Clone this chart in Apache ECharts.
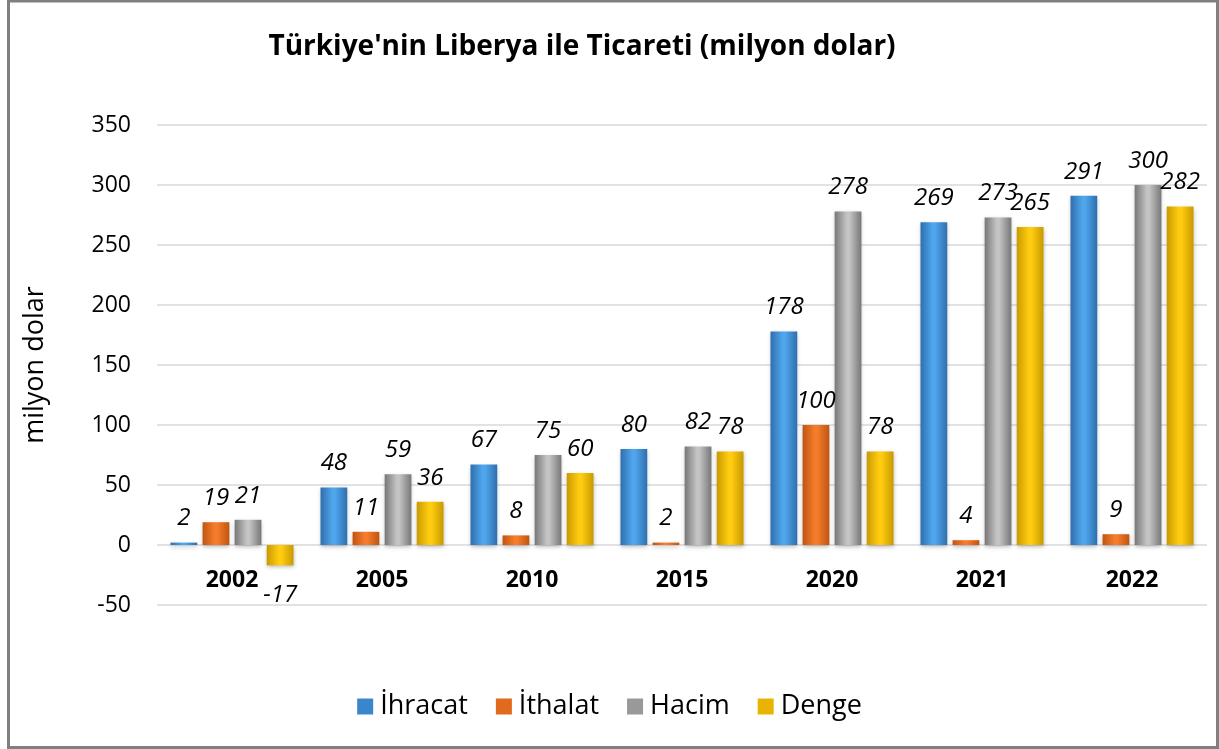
<!DOCTYPE html>
<html><head><meta charset="utf-8">
<script src="https://cdn.jsdelivr.net/npm/echarts@6/dist/echarts.min.js"></script>
<style>html,body{margin:0;padding:0;background:#fff}#c{width:1219px;height:749px}</style>
</head><body><div id="c"></div>
<script>
const years = ['2002','2005','2010','2015','2020','2021','2022'];
const ihracat = [2, 48, 67, 80, 178, 269, 291];
const ithalat = [19, 11, 8, 2, 100, 4, 9];
const hacim = [21, 59, 75, 82, 278, 273, 300];
const denge = [-17, 36, 60, 78, 78, 265, 282];
const seriesNames = ['İhracat','İthalat','Hacim','Denge'];
const yTicks = [-50, 0, 50, 100, 150, 200, 250, 300, 350];

const FONT = 'Open Sans';
function grad(edge, mid){
  return {type:'linear',x:0,y:0,x2:1,y2:0,colorStops:[
    {offset:0,color:edge},{offset:0.45,color:mid},{offset:0.55,color:mid},{offset:1,color:edge}]};
}
const colors = [grad('#2E6FAE','#4FA6EC'), grad('#C05510','#F47C2C'), grad('#777777','#C4C4C4'), grad('#C99A00','#FFCC10')];
const legendColors = ['#3A86CC','#E06A1E','#999999','#E8B400'];
const datas = [ihracat, ithalat, hacim, denge];

const chart = echarts.init(document.getElementById('c'), null, {renderer:'canvas'});
chart.setOption({
  animation:false,
  backgroundColor:'#fff',
  title:{text:"Türkiye'nin Liberya ile Ticareti (milyon dolar)", left:577, top:28, textAlign:'center',
    textStyle:{fontFamily:FONT,fontWeight:'bold',fontSize:28,color:'#000'}},
  graphic:[{type:'rect',shape:{x:8.5,y:1,width:1209,height:746.5},style:{fill:'none',stroke:'#808080',lineWidth:3},silent:true}],
  legend:{bottom:24,left:'center',itemWidth:16,itemHeight:16,itemGap:28,
    textStyle:{fontFamily:FONT,fontSize:27,color:'#000',padding:[0,0,0,2]},
    data:seriesNames.map((n,i)=>({name:n,icon:'rect',itemStyle:{color:legendColors[i]}}))},
  grid:{left:157,right:12,top:125,bottom:144},
  xAxis:{type:'category',data:years,offset:-60,
    axisLine:{show:false},
    axisTick:{show:false},
    axisLabel:{fontFamily:FONT,fontWeight:'bold',fontSize:23,color:'#000',margin:24}},
  yAxis:{type:'value',min:yTicks[0],max:yTicks[yTicks.length-1],interval:50,
    name:'milyon dolar',nameLocation:'middle',nameGap:108,nameRotate:90,
    nameTextStyle:{fontFamily:FONT,fontSize:27,color:'#000'},
    axisLine:{show:false},axisTick:{show:false},
    axisLabel:{fontFamily:FONT,fontSize:23,color:'#000',margin:26},
    splitLine:{lineStyle:{color:'#D9D9D9',width:1.5}}},
  series: seriesNames.map((n,i)=>({
    name:n,type:'bar',barCategoryGap:'18%',barGap:'20%',
    data: datas[i].map(v=>({value:v,label:{position: v<0?'bottom':'top',distance: v<0?18:12}})),
    itemStyle:{color:colors[i],shadowColor:'rgba(0,0,0,0.25)',shadowBlur:4,shadowOffsetY:2},
    label:{show:true,fontFamily:FONT,fontStyle:'italic',fontSize:24,color:'#000'}
  }))
});
</script></body></html>
